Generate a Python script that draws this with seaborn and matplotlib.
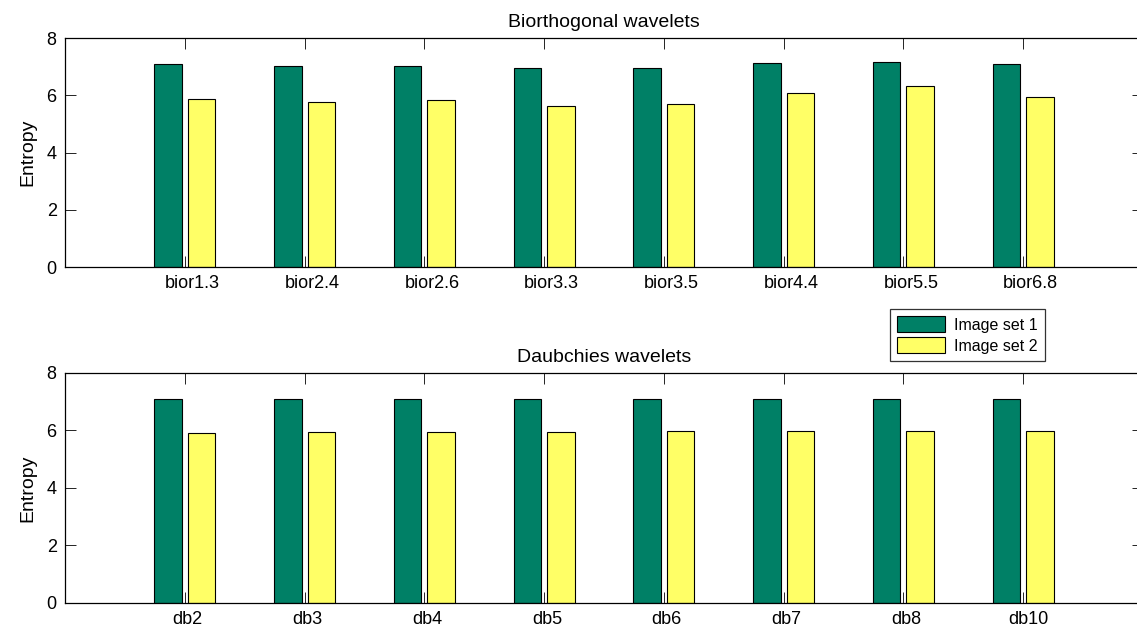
import matplotlib
matplotlib.use("Agg")
import matplotlib.pyplot as plt
import matplotlib.transforms as mtransforms
import pandas as pd
import seaborn as sns

# Entropy per wavelet family for the two image sets
bior_names = ["bior1.3", "bior2.4", "bior2.6", "bior3.3", "bior3.5", "bior4.4", "bior5.5", "bior6.8"]
bior_set1 = [7.10, 7.03, 7.03, 6.95, 6.95, 7.14, 7.18, 7.10]
bior_set2 = [5.86, 5.78, 5.83, 5.64, 5.69, 6.08, 6.32, 5.93]

db_names = ["db2", "db3", "db4", "db5", "db6", "db7", "db8", "db10"]
db_set1 = [7.11, 7.11, 7.11, 7.11, 7.11, 7.11, 7.11, 7.11]
db_set2 = [5.90, 5.94, 5.94, 5.94, 5.98, 5.98, 5.98, 5.98]

set_labels = ["Image set 1", "Image set 2"]
colors = ["#008066", "#FFFF66"]
y_ticks = [0, 2, 4, 6, 8]

sns.set_style("ticks")
plt.rcParams["font.family"] = ["Liberation Sans", "DejaVu Sans"]
for key in ("text.color", "axes.labelcolor", "xtick.color", "ytick.color", "axes.edgecolor"):
    plt.rcParams[key] = "black"


def long_frame(names, s1, s2):
    return pd.DataFrame({
        "wavelet": names * 2,
        "entropy": s1 + s2,
        "set": [set_labels[0]] * len(names) + [set_labels[1]] * len(names),
    })


fig = plt.figure(figsize=(11.37, 6.32), dpi=100)
ax_top = fig.add_axes([0.0572, 0.5775, 0.948, 0.3623])
ax_bot = fig.add_axes([0.0572, 0.0459, 0.948, 0.3640])

panels = [
    (ax_top, long_frame(bior_names, bior_set1, bior_set2), "Biorthogonal wavelets"),
    (ax_bot, long_frame(db_names, db_set1, db_set2), "Daubchies wavelets"),
]

for ax, df, title in panels:
    sns.barplot(data=df, x="wavelet", y="entropy", hue="set", palette=colors,
                width=0.56, gap=0.18, edgecolor="black", linewidth=0.8,
                saturation=1, ax=ax, legend=(ax is ax_top))
    ax.set_xlim(-1, 8)
    ax.set_ylim(0, 8)
    ax.set_yticks(y_ticks)
    ax.set_xlabel("")
    ax.set_ylabel("Entropy", fontsize=14, labelpad=7)
    ax.set_title(title, fontsize=14, pad=8)
    ax.tick_params(axis="both", direction="in", length=8, width=0.6,
                   labelsize=13, top=True, right=True, pad=6)
    for sp in ax.spines.values():
        sp.set_visible(True)
        sp.set_linewidth(0.9)
        sp.set_color("black")

handles, labels = ax_top.get_legend_handles_labels()
ax_top.get_legend().remove()
leg = fig.legend(handles, labels, loc="upper left", bbox_to_anchor=(0.783, 0.511),
                 borderaxespad=0, fontsize=11.5, frameon=True, fancybox=False,
                 edgecolor="black", handlelength=3.0, handleheight=1.15,
                 handletextpad=0.55, labelspacing=0.3, borderpad=0.45)
leg.get_frame().set_linewidth(0.9)

# Category labels sit slightly right of their tick, more so for longer names
fig.canvas.draw()
renderer = fig.canvas.get_renderer()
for ax in (ax_top, ax_bot):
    for lbl in ax.get_xticklabels():
        w = lbl.get_window_extent(renderer).width
        dx = (0.185 * w - 2.6) / fig.dpi
        lbl.set_transform(lbl.get_transform()
                          + mtransforms.ScaledTranslation(dx, 0, fig.dpi_scale_trans))

fig.savefig("out.png", dpi=100)
